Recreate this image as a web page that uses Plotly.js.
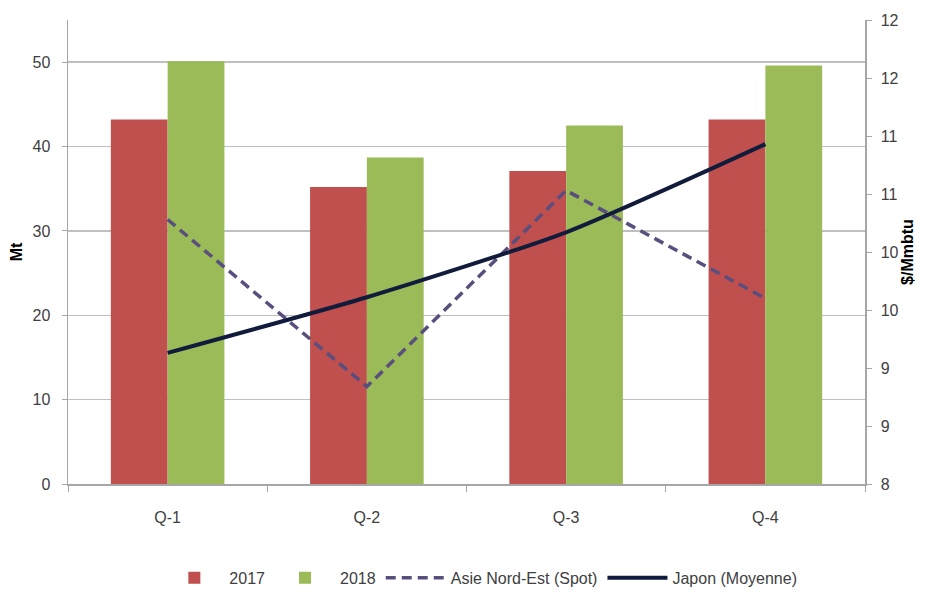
<!DOCTYPE html>
<html>
<head>
<meta charset="utf-8">
<script src="https://cdn.plot.ly/plotly-3.0.1.min.js"></script>
<style>
  html, body { margin: 0; padding: 0; background: #ffffff; }
  #chart { width: 925px; height: 592px; }
</style>
</head>
<body>
<div id="chart"></div>
<script>
// Quarterly volumes (Mt) and prices ($/Mmbtu)
const quarters = ["Q-1", "Q-2", "Q-3", "Q-4"];
const volume2017 = [43.2, 35.2, 37.1, 43.2];
const volume2018 = [50.1, 38.7, 42.5, 49.6];
const asieSpot = [10.28, 8.84, 10.53, 9.60];
const japonMoyenne = [9.13, 9.61, 10.17, 10.93];

// Price axis: half-unit ticks, labels shown as whole numbers
const priceTicks = [8, 8.5, 9, 9.5, 10, 10.5, 11, 11.5, 12];
const priceTickText = priceTicks.map(v => String(Math.round(v)));
const volumeTicks = [0, 10, 20, 30, 40, 50];

const FONT = "Liberation Sans, Arial, sans-serif";
const tickFont = { family: FONT, size: 16, color: "#404040" };

const traces = [
  {
    type: "bar", name: "2017", x: quarters, y: volume2017,
    marker: { color: "#C0504D" }, yaxis: "y"
  },
  {
    type: "bar", name: "2018", x: quarters, y: volume2018,
    marker: { color: "#9BBB59" }, yaxis: "y"
  },
  {
    type: "scatter", mode: "lines", name: "Asie Nord-Est (Spot)",
    x: quarters, y: asieSpot, yaxis: "y2",
    line: { color: "#5A4E7E", width: 3.5, dash: "10px,6px" }
  },
  {
    type: "scatter", mode: "lines", name: "Japon (Moyenne)",
    x: quarters, y: japonMoyenne, yaxis: "y2",
    line: { color: "#111C3C", width: 4, shape: "spline", smoothing: 0.6 }
  }
];

const layout = {
  width: 925, height: 592,
  paper_bgcolor: "#ffffff", plot_bgcolor: "#ffffff",
  margin: { l: 68, r: 60, t: 20, b: 108, autoexpand: false },
  barmode: "group", bargap: 0.43, bargroupgap: 0,
  showlegend: true,
  legend: {
    orientation: "h", x: 0.518, xanchor: "center", y: -0.202, yanchor: "middle",
    font: { family: FONT, size: 16, color: "#404040" },
    traceorder: "normal", itemwidth: 60
  },
  xaxis: {
    type: "category", tickson: "boundaries", ticks: "outside", ticklen: 6,
    tickcolor: "#A6A6A6", showline: true, linecolor: "#A6A6A6", linewidth: 1.5,
    showgrid: false, tickfont: tickFont, ticklabelstandoff: 18
  },
  yaxis: {
    range: [0, 55], tickvals: volumeTicks, ticks: "outside", ticklen: 5,
    tickcolor: "#A6A6A6", showline: true, linecolor: "#A6A6A6", linewidth: 1.5,
    showgrid: true, gridcolor: "#BFBFBF", gridwidth: 1.5, zeroline: false,
    tickfont: tickFont, ticklabelstandoff: 8,
    title: { text: "<b>Mt</b>", font: { family: FONT, size: 16, color: "#000000" }, standoff: 6 }
  },
  yaxis2: {
    overlaying: "y", side: "right", range: [8, 12],
    tickvals: priceTicks, ticktext: priceTickText,
    ticks: "outside", ticklen: 5, tickcolor: "#A6A6A6",
    showline: true, linecolor: "#A6A6A6", linewidth: 1.5,
    showgrid: false, zeroline: false, tickfont: tickFont, ticklabelstandoff: 6,
    title: { text: "<b>$/Mmbtu</b>", font: { family: FONT, size: 16, color: "#000000" }, standoff: 0 }
  }
};

Plotly.newPlot("chart", traces, layout, { displayModeBar: false, staticPlot: true });
</script>
</body>
</html>
